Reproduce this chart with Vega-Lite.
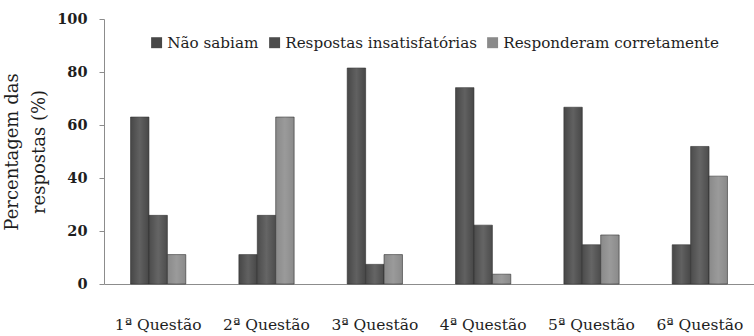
{
  "$schema": "https://vega.github.io/schema/vega-lite/v6.json",
  "width": 650,
  "height": 265,
  "autosize": {"type": "none"},
  "padding": {"left": 104, "top": 19, "right": 0, "bottom": 52},
  "background": "white",
  "data": {
    "values": [
      {"questao": "1ª Questão", "resposta": "Não sabiam", "pct": 63.0},
      {"questao": "1ª Questão", "resposta": "Respostas insatisfatórias", "pct": 25.9},
      {"questao": "1ª Questão", "resposta": "Responderam corretamente", "pct": 11.1},
      {"questao": "2ª Questão", "resposta": "Não sabiam", "pct": 11.1},
      {"questao": "2ª Questão", "resposta": "Respostas insatisfatórias", "pct": 25.9},
      {"questao": "2ª Questão", "resposta": "Responderam corretamente", "pct": 63.0},
      {"questao": "3ª Questão", "resposta": "Não sabiam", "pct": 81.5},
      {"questao": "3ª Questão", "resposta": "Respostas insatisfatórias", "pct": 7.4},
      {"questao": "3ª Questão", "resposta": "Responderam corretamente", "pct": 11.1},
      {"questao": "4ª Questão", "resposta": "Não sabiam", "pct": 74.1},
      {"questao": "4ª Questão", "resposta": "Respostas insatisfatórias", "pct": 22.2},
      {"questao": "4ª Questão", "resposta": "Responderam corretamente", "pct": 3.7},
      {"questao": "5ª Questão", "resposta": "Não sabiam", "pct": 66.7},
      {"questao": "5ª Questão", "resposta": "Respostas insatisfatórias", "pct": 14.8},
      {"questao": "5ª Questão", "resposta": "Responderam corretamente", "pct": 18.5},
      {"questao": "6ª Questão", "resposta": "Não sabiam", "pct": 14.8},
      {"questao": "6ª Questão", "resposta": "Respostas insatisfatórias", "pct": 51.9},
      {"questao": "6ª Questão", "resposta": "Responderam corretamente", "pct": 40.7}
    ]
  },
  "config": {
    "view": {"stroke": null},
    "font": "DejaVu Serif"
  },
  "encoding": {
    "x": {
      "field": "questao",
      "type": "nominal",
      "sort": null,
      "scale": {"paddingInner": 0.49, "paddingOuter": 0.245},
      "axis": {
        "title": null,
        "labelAngle": 0,
        "ticks": false,
        "domainColor": "#8c8c8c",
        "labelPadding": 33,
        "labelFont": "DejaVu Serif",
        "labelFontSize": 15.5,
        "labelColor": "#1e1e1e"
      }
    },
    "xOffset": {
      "field": "resposta",
      "type": "nominal",
      "sort": ["Não sabiam", "Respostas insatisfatórias", "Responderam corretamente"]
    },
    "y": {
      "field": "pct",
      "type": "quantitative",
      "scale": {"domain": [0, 100]},
      "axis": {
        "title": ["Percentagem das", "respostas (%)"],
        "titleFont": "DejaVu Serif",
        "titleFontSize": 18,
        "titleFontWeight": "normal",
        "titleColor": "#1e1e1e",
        "titlePadding": 8,
        "titleLineHeight": 27,
        "values": [0, 20, 40, 60, 80, 100],
        "grid": false,
        "domainColor": "#8c8c8c",
        "tickColor": "#8c8c8c",
        "tickSize": 5,
        "labelPadding": 12,
        "labelFont": "DejaVu Serif",
        "labelFontSize": 14.5,
        "labelFontWeight": "bold",
        "labelColor": "#1e1e1e"
      }
    }
  },
  "layer": [
    {
      "mark": {"type": "bar", "stroke": "#2e2e2e", "strokeWidth": 0.6},
      "encoding": {
        "color": {
          "field": "resposta",
          "type": "nominal",
          "scale": {
            "domain": ["Não sabiam", "Respostas insatisfatórias", "Responderam corretamente"],
            "range": ["#474747", "#4c4c4c", "#8a8a8a"]
          },
          "legend": {
            "title": null,
            "orient": "none",
            "legendX": 45,
            "legendY": 16,
            "direction": "horizontal",
            "symbolType": "square",
            "symbolSize": 120,
            "symbolStrokeWidth": 0,
            "labelFont": "DejaVu Serif",
            "labelFontSize": 15.2,
            "labelColor": "#1e1e1e",
            "labelOffset": 3,
            "columnPadding": 8,
            "labelLimit": 300
          }
        }
      }
    },
    {
      "mark": {
        "type": "bar",
        "strokeWidth": 0,
        "fill": {
          "gradient": "linear",
          "x1": 0, "y1": 0, "x2": 1, "y2": 0,
          "stops": [
            {"offset": 0, "color": "rgba(255,255,255,0)"},
            {"offset": 0.5, "color": "rgba(255,255,255,0.14)"},
            {"offset": 1, "color": "rgba(255,255,255,0)"}
          ]
        }
      }
    }
  ]
}
